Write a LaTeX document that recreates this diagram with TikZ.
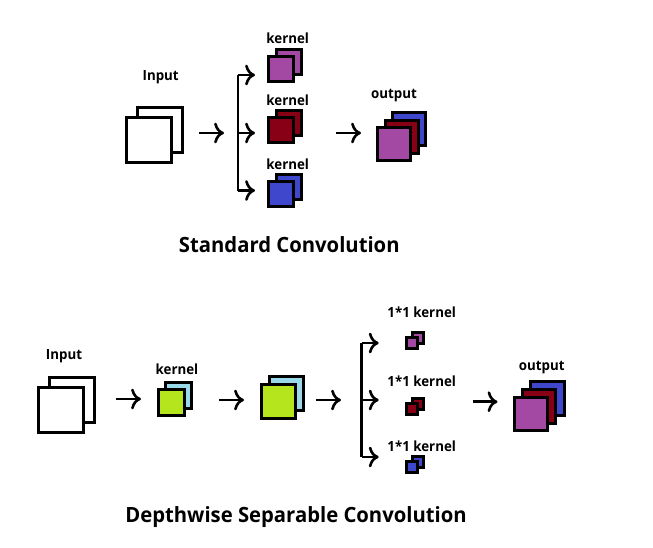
\documentclass[tikz,border=0pt]{standalone}
\usepackage{fontspec}
\setmainfont{Open Sans}
\usepackage{tikz}
\usetikzlibrary{arrows, arrows.meta, positioning}

\definecolor{kpurple}{HTML}{A349A4}
\definecolor{kred}{HTML}{880015}
\definecolor{kblue}{HTML}{3F48CC}
\definecolor{kgreen}{HTML}{B5E61D}
\definecolor{klight}{HTML}{99D9EA}

\begin{document}
\begin{tikzpicture}[
					x=1pt, y=-1pt,
					sq/.style={draw, line width=3pt, inner sep=0pt, minimum size=#1},
					lab/.style={font=\addfontfeature{FakeStretch=0.95}\bfseries\fontsize{14}{16}\selectfont},
					ttl/.style={font=\addfontfeature{FakeStretch=0.965}\bfseries\fontsize{21}{24}\selectfont},
					arr/.style={-{To[scale=1.35]}, line width=2.6pt}]
				\useasboundingbox (0,0) rectangle (653,547);

				% standard convolution
				\node[sq=45, fill=white] (in1b) at (160,129.5) {};
				\node[sq=45, fill=white] (in1f) at (149,140) {};
				\node[lab] (inl1) at (160.7,77) {Input};

				\foreach \name/\col/\y in {kp/kpurple/68.5, kr/kred/130, kb/kblue/194} {
					\node[sq=25, fill=\col] (\name b) at (289,\y-7) {};
					\node[sq=25, fill=\col] (\name f) at (281,\y) {};
				}
				\node[lab] (kpl) at (287.7,38) {kernel};
				\node[lab] (krl) at (287.7,100) {kernel};
				\node[lab] (kbl) at (287.7,164) {kernel};

				\node[sq=33, fill=kblue]   (out1b) at (409.3,129) {};
				\node[sq=33, fill=kred]    (out1m) at (401.5,136.5) {};
				\node[sq=33, fill=kpurple] (out1f) at (393.7,144) {};
				\node[lab] (outl1) at (394,96) {output};

				\node[ttl] (t1) at (289.3,245) {Standard Convolution};

				\coordinate (a1s) at (199,133);
				\coordinate (a1e) at (224,133);
				\coordinate (br1t) at (238,75);
				\coordinate (br1m) at (238,133);
				\coordinate (br1b) at (238,190.5);
				\coordinate (a2s) at (336,133);
				\coordinate (a2e) at (361,133);
				\draw[arr] (a1s) -- (a1e);
				\draw[arr] (a2s) -- (a2e);
				\draw[line width=2.6pt] (br1t) -- (br1b);
				\foreach \c in {br1t, br1m, br1b}
					\draw[arr] (\c) -- ++(17,0);

				% depthwise separable convolution
				\node[sq=45, fill=white] (in2b) at (72.3,400) {};
				\node[sq=45, fill=white] (in2f) at (61,410) {};
				\node[lab] (inl2) at (64,356) {Input};

				\node[sq=26, fill=klight] (dkb) at (178,395.5) {};
				\node[sq=26, fill=kgreen] (dkf) at (171.5,402.5) {};
				\node[lab] (dkl) at (177,369) {kernel};

				\node[sq=34, fill=klight] (midb) at (286.5,393) {};
				\node[sq=34, fill=kgreen] (midf) at (278.3,401) {};

				\foreach \name/\col/\y in {pp/kpurple/343.3, pr/kred/409, pb/kblue/467} {
					\node[sq=11, fill=\col] (\name b) at (418,\y-5.5) {};
					\node[sq=11, fill=\col] (\name f) at (412,\y) {};
				}
				\node[lab] (ppl) at (421.7,312.5) {1*1 kernel};
				\node[lab] (prl) at (421.7,381) {1*1 kernel};
				\node[lab] (pbl) at (421.7,446) {1*1 kernel};

				\node[sq=33.5, fill=kblue]   (out2b) at (547.5,398.3) {};
				\node[sq=33.5, fill=kred]    (out2m) at (539,406.5) {};
				\node[sq=33.5, fill=kpurple] (out2f) at (531,414) {};
				\node[lab] (outl2) at (541.7,368) {output};

				\node[ttl] (t2) at (296,517) {Depthwise Separable Convolution};

				\coordinate (b1s) at (115.7,399);
				\coordinate (b1e) at (141,399);
				\coordinate (b2s) at (219,400);
				\coordinate (b2e) at (244,400);
				\coordinate (b3s) at (315.7,400);
				\coordinate (b3e) at (341,400);
				\coordinate (b4s) at (472.7,401.7);
				\coordinate (b4e) at (497.5,401.7);
				\coordinate (br2t) at (361.7,343);
				\coordinate (br2m) at (361.7,400);
				\coordinate (br2b) at (361.7,457);
				\foreach \from/\to in {b1s/b1e, b2s/b2e, b3s/b3e, b4s/b4e}
					\draw[arr] (\from) -- (\to);
				\draw[line width=2.6pt] (br2t) -- (br2b);
				\foreach \c in {br2t, br2m, br2b}
					\draw[arr] (\c) -- ++(17,0);
			\end{tikzpicture}
\end{document}
